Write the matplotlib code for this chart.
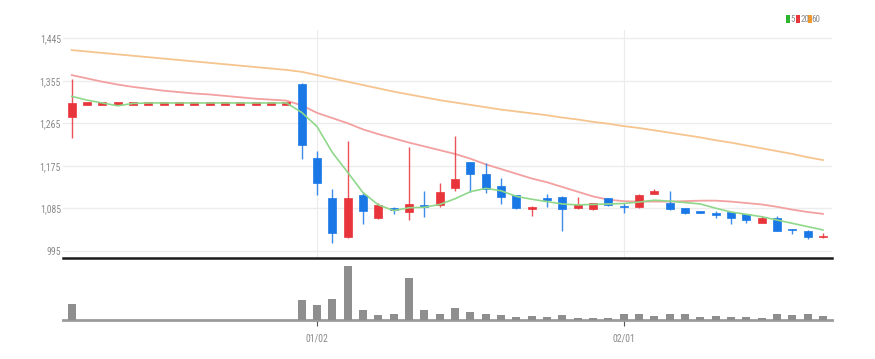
import matplotlib
matplotlib.use("Agg")
import matplotlib.pyplot as plt
from matplotlib import font_manager as fm
from matplotlib.patches import Rectangle

names = {f.name for f in fm.fontManager.ttflist}
STRETCH = 'normal'
FONT = ['DejaVu Sans']
for cand in ['Liberation Sans Narrow', 'Roboto Condensed', 'Open Sans Condensed', 'DejaVu Sans Condensed']:
    if cand in names:
        FONT = [cand, 'DejaVu Sans']
        break
else:
    if any(f.name == 'DejaVu Sans' and str(f.stretch) in ('condensed', 'semi-condensed', '87.5', '75')
           for f in fm.fontManager.ttflist):
        STRETCH = 'condensed'
    elif 'Liberation Sans' in names:
        FONT = ['Liberation Sans', 'DejaVu Sans']
plt.rcParams['font.family'] = FONT
plt.rcParams['font.stretch'] = STRETCH

# ---------------- data ----------------
opens  = [1278] + [1307]*14 + [1348, 1192, 1107, 1023, 1114, 1064, 1086, 1078, 1092, 1092,
          1128, 1182, 1157, 1132, 1113, 1083, 1107, 1109, 1085, 1083,
          1107, 1090, 1088, 1115, 1097, 1085, 1080, 1074, 1078, 1073,
          1054, 1065, 1042, 1037, 1023]
highs  = [1358] + [1307]*14 + [1350, 1206, 1126, 1227, 1120, 1097, 1087, 1214, 1121, 1138,
          1238, 1183, 1180, 1148, 1114, 1090, 1115, 1110, 1108, 1097,
          1107, 1095, 1115, 1126, 1121, 1085, 1080, 1080, 1078, 1073,
          1069, 1069, 1042, 1038, 1032]
lows   = [1233] + [1307]*14 + [1189, 1113, 1012, 1022, 1051, 1063, 1072, 1059, 1067, 1088,
          1122, 1120, 1118, 1094, 1084, 1069, 1088, 1037, 1084, 1082,
          1090, 1074, 1085, 1115, 1082, 1073, 1075, 1064, 1052, 1053,
          1054, 1037, 1030, 1019, 1022]
closes = [1307] + [1307]*14 + [1219, 1138, 1033, 1106, 1079, 1092, 1082, 1093, 1088, 1119,
          1147, 1157, 1126, 1108, 1085, 1087, 1102, 1083, 1093, 1096,
          1092, 1087, 1114, 1121, 1083, 1074, 1075, 1072, 1064, 1060,
          1065, 1037, 1039, 1023, 1027]
volume = [16] + [0]*14 + [20, 15, 20.3, 53.3, 9.3, 4.3, 6, 42, 9.3, 5.6,
          12, 7.6, 5.6, 4.3, 2.6, 4, 2.6, 4.3, 2, 2,
          2, 5.3, 6, 4, 5.6, 5.6, 2.6, 4, 2.6, 2.6,
          2, 6, 4.3, 5.6, 4]
ma5  = [1322, 1314, 1308, 1302, 1307, 1308, 1308, 1308, 1308, 1308,
        1308, 1308, 1308, 1308, 1308, 1288, 1258, 1203, 1161, 1118,
        1092, 1080, 1086, 1087, 1093, 1105, 1120, 1127, 1122, 1110,
        1104, 1099, 1094, 1092, 1093, 1094, 1095, 1098, 1102, 1100,
        1097, 1094, 1085, 1077, 1072, 1067, 1060, 1053, 1046, 1039]
ma20 = [1367, 1360, 1353, 1347, 1342, 1338, 1334, 1331, 1328, 1326,
        1323, 1320, 1317, 1315, 1313, 1303, 1287, 1276, 1265, 1252,
        1242, 1233, 1224, 1216, 1208, 1200, 1190, 1178, 1168, 1158,
        1148, 1140, 1130, 1120, 1110, 1103, 1100, 1099, 1099, 1099,
        1100, 1101, 1101, 1099, 1096, 1093, 1088, 1082, 1077, 1073]
ma60 = [1420, 1417, 1414, 1411, 1408, 1405, 1402, 1399, 1396, 1393,
        1390, 1387, 1384, 1381, 1378, 1374, 1367, 1360, 1353, 1346,
        1339, 1332, 1326, 1320, 1314, 1309, 1304, 1299, 1294, 1290,
        1286, 1282, 1277, 1273, 1268, 1264, 1259, 1255, 1250, 1245,
        1240, 1235, 1229, 1224, 1218, 1212, 1206, 1200, 1193, 1187]
y_ticks = [995, 1085, 1175, 1265, 1355, 1445]
x_tick_idx = [16, 36]
x_tick_labels = ['01/02', '02/01']
legend_labels = ['5', '20', '60']

# ---------------- style ----------------
RED = '#e8353b'
BLUE = '#1a78e6'
C5, C20, C60 = '#8fd88a', '#f3a0a0', '#f6c48f'
LEG = ['#2cb52c', '#e8353b', '#f39a2e']
GRID = '#ececec'
TXT = '#8a8a8a'

W, H = 875, 359
fig = plt.figure(figsize=(W/100, H/100), dpi=100)
L, R = 63/W, 832/W
ax = fig.add_axes([L, 1-258/H, R-L, (258-30)/H])
axv = fig.add_axes([L, 1-319.5/H, R-L, (319.5-262)/H])

n = len(closes)
xs = list(range(n))
bw = 0.52

for i in xs:
    o, h, l, c = opens[i], highs[i], lows[i], closes[i]
    col = RED if c >= o else BLUE
    ax.vlines(i, l, h, color=col, lw=1.0, zorder=3, alpha=0.85)
    body = abs(c - o)
    minh = 5 if h == l else 3
    bot = min(o, c)
    if body < minh:
        bot = (o + c)/2 - minh/2
        body = minh
    ax.bar(i, body, bottom=bot, width=bw, color=col, edgecolor=col, lw=0.5, zorder=4)

ax.plot(xs, ma60, color=C60, lw=1.3, zorder=2)
ax.plot(xs, ma20, color=C20, lw=1.3, zorder=2)
ax.plot(xs, ma5, color=C5, lw=1.2, zorder=5)

ax.set_xlim(-0.57, n - 1 + 0.59)
ax.set_ylim(979.5, 1462.6)
ax.set_yticks(y_ticks)
ax.set_yticklabels([f'{v:,}' for v in y_ticks])
ax.grid(axis='y', color=GRID, lw=1, zorder=0)
for xi in x_tick_idx:
    ax.axvline(xi, color=GRID, lw=0.8, zorder=0)
ax.set_xticks([])
for s in ['top', 'right', 'left']:
    ax.spines[s].set_visible(False)
ax.spines['bottom'].set_color('#1a1a1a')
ax.spines['bottom'].set_linewidth(1.8)
ax.tick_params(axis='y', length=0, pad=1.5, labelsize=7, labelcolor=TXT)
ax.set_facecolor('none')

axv.bar(xs, volume, width=bw, color='#8e8e8e', zorder=3)
axv.set_xlim(ax.get_xlim())
axv.set_ylim(0, 57.5)
axv.set_yticks([])
axv.set_xticks(x_tick_idx)
axv.set_xticklabels(x_tick_labels)
axv.tick_params(axis='x', length=4, width=0.8, color='#555', pad=6, labelsize=7, labelcolor=TXT)
for s in ['top', 'right', 'left']:
    axv.spines[s].set_visible(False)
axv.spines['bottom'].set_color('#9a9a9a')
axv.spines['bottom'].set_linewidth(2)
axv.set_facecolor('none')

# legend
lx = [786, 796, 807.5]
tx = [790.8, 800.3, 811.8]
ly = 19
for i in range(3):
    fig.add_artist(Rectangle((lx[i]/W, 1-(ly+3.5)/H), 4/W, 7/H, transform=fig.transFigure,
                             facecolor=LEG[i], edgecolor='none'))
    fig.text(tx[i]/W, 1-ly/H, legend_labels[i], color=TXT, fontsize=6.5, va='center', ha='left')

fig.savefig('out.png', dpi=100)
